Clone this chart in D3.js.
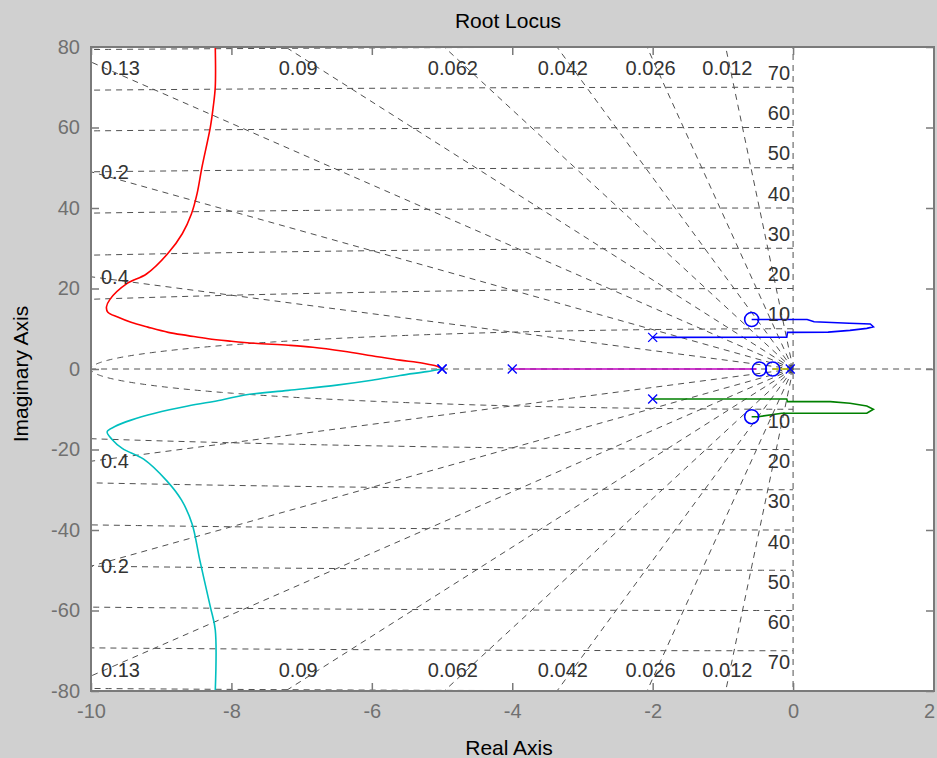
<!DOCTYPE html>
<html><head><meta charset="utf-8">
<script src="https://cdn.jsdelivr.net/npm/d3@7"></script>
<style>
body{margin:0;background:#d0d0d0;}
svg{display:block;font-family:"Liberation Sans",Arial,sans-serif;}
</style>
</head><body>
<svg id="chart" width="937" height="758"></svg>
<script>
// ---------- data ----------
const xTicks = [-10, -8, -6, -4, -2, 0, 2];
const yTicks = [-80, -60, -40, -20, 0, 20, 40, 60, 80];
const zetaValues = [0.012, 0.026, 0.042, 0.062, 0.09, 0.13, 0.2, 0.4];
const zetaLabels = ["0.012", "0.026", "0.042", "0.062", "0.09", "0.13", "0.2", "0.4"];
const wnValues = [10, 20, 30, 40, 50, 60, 70, 80];
const wnLabels = [10, 20, 30, 40, 50, 60, 70];

const poles = [[-5, 0], [-5, 0], [-4, 0], [-2, 7.85], [-2, -7.45], [-0.04, 0]];
const zerosPts = [[-0.59, 12.3], [-0.59, -11.85], [-0.48, 0], [-0.29, 0]];

const branchBlue = [[-2.0, 7.85], [-0.09, 7.88], [-0.08, 9.1], [0.5, 9.15], [0.81, 9.6], [1.05, 10.1], [1.144, 10.5],
  [1.1, 11.2], [0.8, 11.35], [0.3, 11.75], [0.2, 12.3], [-0.59, 12.3]];
const branchGreen = [[-2.0, -7.45], [-0.09, -7.45], [-0.08, -8.1], [0.53, -8.1], [0.81, -8.5], [1.05, -9.2], [1.144, -10.0],
  [1.05, -11.0], [-0.16, -11.0], [-0.5, -11.85], [-0.59, -11.85]];
const branchRed = [[-5.0, 0], [-5.07, 0.7], [-5.2, 1.17], [-5.36, 1.66], [-5.6, 2.2], [-6.0, 3.3], [-6.4, 4.4],
  [-6.84, 5.4], [-7.19, 5.9], [-7.67, 6.4], [-8.0, 6.9], [-8.33, 7.5], [-8.62, 8.3], [-8.9, 9.1], [-9.19, 10.4],
  [-9.43, 11.6], [-9.62, 12.9], [-9.76, 14.1], [-9.78, 15.4], [-9.73, 17.3], [-9.49, 21.2], [-9.21, 23.6],
  [-8.9, 28.8], [-8.7, 33.6], [-8.57, 38.5], [-8.49, 43.5], [-8.42, 50.1], [-8.3, 60.1], [-8.26, 65.0],
  [-8.23, 70.1], [-8.23, 80]];
const branchCyan = [[-5.0, 0], [-5.22, -0.66], [-5.6, -1.6], [-6.0, -2.8], [-6.5, -4.0], [-7.19, -5.3], [-7.81, -6.46],
  [-8.14, -7.7], [-8.62, -9.2], [-9.09, -11.0], [-9.43, -12.7], [-9.66, -14.3], [-9.77, -15.6], [-9.7, -17.5],
  [-9.55, -19.8], [-9.25, -22.4], [-8.92, -27.8], [-8.71, -32.6], [-8.56, -38.5], [-8.45, -47.5], [-8.3, -59.1],
  [-8.23, -64.8], [-8.23, -80]];
const branchMagenta = [[-4.0, 0], [-0.52, 0]];
const branchYellow = [[-0.29, 0], [-0.04, 0]];

const branches = [
  {pts: branchBlue, color: "#0000ff", smooth: false},
  {pts: branchGreen, color: "#008000", smooth: false},
  {pts: branchRed, color: "#ff0000", smooth: true},
  {pts: branchCyan, color: "#00bfbf", smooth: true},
  {pts: branchMagenta, color: "#bf00bf", smooth: false},
  {pts: branchYellow, color: "#bfbf00", smooth: false}
];

// ---------- layout ----------
const X0 = 91, X1 = 934, Y0 = 47, Y1 = 691;
const svg = d3.select("#chart");
const x = d3.scaleLinear().domain([-10, 2]).range([X0, 933.5]);
const y = d3.scaleLinear().domain([-80, 80]).range([Y1, Y0]);

svg.append("rect").attr("width", 937).attr("height", 758).attr("fill", "#d0d0d0");
svg.append("rect").attr("x", X0).attr("y", Y0).attr("width", X1 - X0).attr("height", Y1 - Y0).attr("fill", "#ffffff");

svg.append("defs").append("clipPath").attr("id", "clip")
  .append("rect").attr("x", X0).attr("y", Y0).attr("width", X1 - X0).attr("height", Y1 - Y0);

const plot = svg.append("g").attr("clip-path", "url(#clip)");
const line = d3.line().x(d => x(d[0])).y(d => y(d[1]));
const smoothLine = d3.line().x(d => x(d[0])).y(d => y(d[1])).curve(d3.curveCatmullRom.alpha(0.5));

// ---------- s-plane grid ----------
const grid = plot.append("g").attr("fill", "none").attr("stroke", "#505050")
  .attr("stroke-width", 1).attr("stroke-dasharray", "6,5");
const angles = d3.range(0, 361).map(i => Math.PI / 2 + Math.PI * i / 360);
wnValues.forEach(wn => {
  grid.append("path").attr("d", line(angles.map(t => [wn * Math.cos(t), wn * Math.sin(t)])));
});
const R = 120;
zetaValues.forEach(z => {
  const s = Math.sqrt(1 - z * z);
  grid.append("path").attr("d", line([[0, 0], [-R * z, R * s]]));
  grid.append("path").attr("d", line([[0, 0], [-R * z, -R * s]]));
});
grid.append("path").attr("d", line([[0, -R], [0, R]]));
grid.append("path").attr("d", line([[-R, 0], [R, 0]]));

// ---------- loci ----------
branches.forEach(b => {
  plot.append("path").attr("d", (b.smooth ? smoothLine : line)(b.pts)).attr("fill", "none")
    .attr("stroke", b.color).attr("stroke-width", 1.6);
});

// markers
plot.selectAll(".pole").data(poles).enter().append("path")
  .attr("transform", d => `translate(${x(d[0])},${y(d[1])})`)
  .attr("d", "M-4.5,-4.5L4.5,4.5M-4.5,4.5L4.5,-4.5")
  .attr("stroke", "#0000ff").attr("stroke-width", 1.3).attr("fill", "none");
plot.selectAll(".zero").data(zerosPts).enter().append("circle")
  .attr("cx", d => x(d[0])).attr("cy", d => y(d[1])).attr("r", 7)
  .attr("stroke", "#0000ff").attr("stroke-width", 1.6).attr("fill", "none");

// ---------- grid labels ----------
const lab = svg.append("g").attr("font-size", 20).attr("fill", "#333333");
const topRow = Y0 + 21, botRow = Y1 - 21;
zetaValues.forEach((z, i) => {
  const s = Math.sqrt(1 - z * z);
  const yHit = 10 * s / z; // imag value at x = -10
  if (yHit > 80) {
    const xt = -78 * z / s;
    [topRow, botRow].forEach(py => {
      lab.append("text").attr("x", x(xt)).attr("y", py).attr("dy", "0.35em")
        .attr("text-anchor", "middle").text(zetaLabels[i]);
    });
  } else {
    [yHit, -yHit].forEach(v => {
      const py = Math.max(topRow, Math.min(botRow, y(v)));
      lab.append("text").attr("x", X0 + 10).attr("y", py).attr("dy", "0.35em")
        .attr("text-anchor", "start").text(zetaLabels[i]);
    });
  }
});
wnLabels.forEach(wn => {
  lab.append("text").attr("x", x(0) - 3).attr("y", y(wn) - 7.5)
    .attr("text-anchor", "end").text(String(wn));
  lab.append("text").attr("x", x(0) - 3).attr("y", y(-wn) + 18.5)
    .attr("text-anchor", "end").text(String(wn));
});

// ---------- axes ----------
const axColor = "#7a7a7a";
function styleAxis(g) {
  g.select(".domain").remove();
  g.selectAll(".tick line").attr("stroke", axColor).attr("stroke-width", 1.5);
  g.selectAll(".tick text").attr("fill", "#707070").attr("font-size", 20)
    .attr("font-family", "Liberation Sans, Arial, sans-serif");
}
const bottomAxis = svg.append("g").attr("transform", `translate(0,${Y1})`)
  .call(d3.axisBottom(x).tickValues(xTicks).tickSizeInner(-8).tickSizeOuter(0).tickPadding(13).tickFormat(d => String(d)))
  .call(styleAxis);
// keep the last label inside the window
bottomAxis.selectAll(".tick text").filter(d => d === 2).attr("text-anchor", "end").attr("dx", 1);
svg.append("g").attr("transform", `translate(${X0},0)`)
  .call(d3.axisLeft(y).tickValues(yTicks).tickSizeInner(-8).tickSizeOuter(0).tickPadding(11).tickFormat(d => String(d)))
  .call(styleAxis);
svg.append("g").attr("transform", `translate(0,${Y0})`)
  .call(d3.axisTop(x).tickValues(xTicks).tickSizeInner(-8).tickSizeOuter(0).tickFormat(() => ""))
  .call(styleAxis);
svg.append("g").attr("transform", `translate(${X1},0)`)
  .call(d3.axisRight(y).tickValues(yTicks).tickSizeInner(-8).tickSizeOuter(0).tickFormat(() => ""))
  .call(styleAxis);

svg.append("rect").attr("x", X0).attr("y", Y0).attr("width", X1 - X0).attr("height", Y1 - Y0)
  .attr("fill", "none").attr("stroke", axColor).attr("stroke-width", 2);

// ---------- titles ----------
svg.append("text").attr("x", 508).attr("y", 28).attr("text-anchor", "middle")
  .attr("font-size", 21).attr("fill", "#000").text("Root Locus");
svg.append("text").attr("x", 509).attr("y", 755).attr("text-anchor", "middle")
  .attr("font-size", 21).attr("fill", "#000").text("Real Axis");
svg.append("text").attr("transform", "translate(28,374) rotate(-90)").attr("text-anchor", "middle")
  .attr("font-size", 21).attr("fill", "#000").text("Imaginary Axis");
</script>
</body></html>
